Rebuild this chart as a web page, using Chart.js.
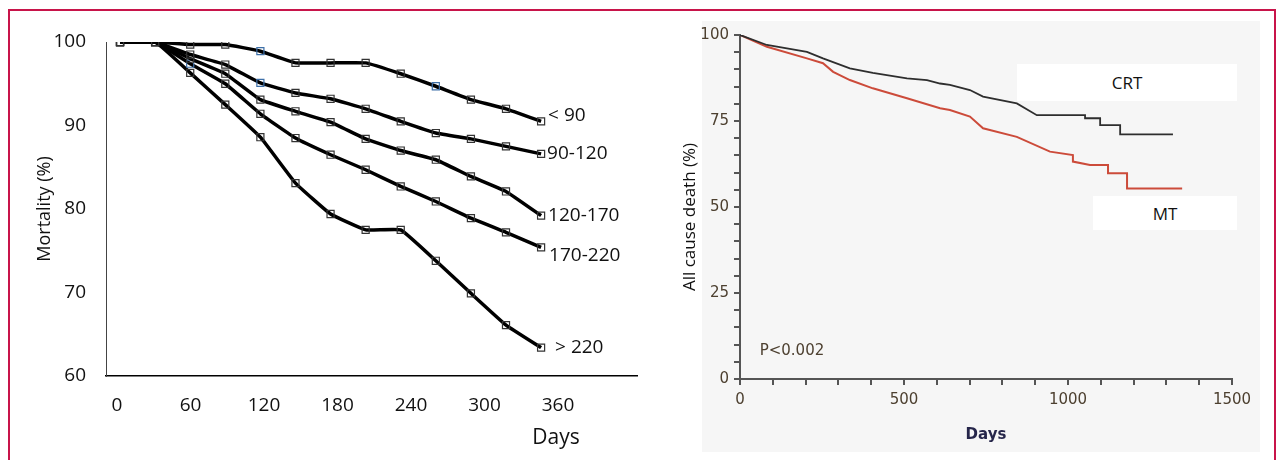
<!DOCTYPE html>
<html>
<head>
<meta charset="utf-8">
<script src="https://cdn.jsdelivr.net/npm/chart.js@4.4.1/dist/chart.umd.min.js"></script>
<style>
  body { margin: 0; background: #fff; width: 1281px; height: 460px; overflow: hidden; position: relative; font-family: "Open Sans", sans-serif; }
  #frame { position: absolute; left: 8px; top: 9px; width: 1268px; height: 520px; border: 2px solid #c8144a; box-sizing: border-box; }
  #kmBg { position: absolute; left: 702px; top: 21px; width: 558px; height: 431px; background: #f6f6f6; }
  #left { position: absolute; left: 0; top: 0; }
  #right { position: absolute; left: 660px; top: 0; }
  .box { position: absolute; background: #fff; font-size: 17px; color: #111; display: flex; align-items: center; justify-content: center; }
</style>
</head>
<body>
<div id="frame"></div>
<div id="kmBg"></div>
<canvas id="left" width="660" height="460"></canvas>
<canvas id="right" width="621" height="460"></canvas>
<div class="box" style="left:1017px;top:64px;width:220px;height:37px;">CRT</div>
<div class="box" style="left:1093px;top:196px;width:144px;height:34px;">MT</div>
<script>
// ---- left panel: mortality by group ----
const days = [0, 30, 60, 90, 120, 150, 180, 210, 240, 270, 300, 330, 360];
const dayTicks = [0, 60, 120, 180, 240, 300, 360];
const mortTicks = [60, 70, 80, 90, 100];
const groups = ['< 90', '90-120', '120-170', '170-220', '> 220'];
const lt90    = [100, 100, 99.7, 99.7, 98.9, 97.5, 97.5, 97.5, 96.2, 94.7, 93.1, 92.0, 90.5];
const g90_120 = [100, 100, 98.5, 97.3, 95.1, 93.9, 93.2, 92.0, 90.5, 89.1, 88.4, 87.5, 86.6];
const g120_170 = [100, 100, 98.0, 96.2, 93.1, 91.7, 90.4, 88.4, 87.0, 85.9, 83.9, 82.1, 79.2];
const g170_220 = [100, 100, 97.4, 95.0, 91.4, 88.5, 86.5, 84.7, 82.7, 80.9, 78.9, 77.2, 75.4];
const gt220   = [100, 100, 96.3, 92.5, 88.6, 83.1, 79.4, 77.5, 77.5, 73.8, 69.9, 66.1, 63.4];

// ---- right panel: Kaplan-Meier (repeated day = vertical step) ----
const crtDays = [0, 82, 204, 253, 335, 405, 509, 570, 610, 640, 701, 741, 844, 905, 1052, 1052, 1098, 1098, 1159, 1159, 1320];
const crtVals = [100, 97.1, 95.1, 93.2, 90.3, 89.0, 87.4, 86.9, 85.9, 85.5, 84.0, 82.1, 80.1, 76.7, 76.7, 75.8, 75.8, 73.8, 73.8, 71.1, 71.1];
const mtDays = [0, 82, 204, 253, 284, 335, 405, 509, 610, 640, 701, 741, 844, 945, 1015, 1015, 1067, 1122, 1122, 1180, 1180, 1348];
const mtVals = [100, 96.6, 93.2, 91.8, 89.3, 86.9, 84.5, 81.6, 78.7, 78.2, 76.3, 72.9, 70.4, 66.1, 65.1, 63.2, 62.2, 62.2, 59.8, 59.8, 55.4, 55.4];
const kmXTicks = [0, 500, 1000, 1500];
const kmYTicks = [0, 25, 50, 75, 100];

const seriesVals = [lt90, g90_120, g120_170, g170_220, gt220];
// a few markers in the source are drawn in blue
const blueMarks = { 0: [4, 9], 1: [4], 3: [2] };
const labelOffsets = [[7, -6], [6, 0], [7, 0], [8, 8], [14, 0]];

const leftSets = seriesVals.map((vals, i) => ({
  label: groups[i],
  data: vals.map((v, j) => ({ x: days[j], y: v })),
  xAxisID: 'x',
  borderColor: '#000',
  borderWidth: 3.5,
  tension: 0.1,
  pointStyle: 'rect',
  pointRadius: 5,
  pointBorderWidth: 1.2,
  pointBackgroundColor: 'rgba(0,0,0,0)',
  pointBorderColor: vals.map((v, j) => (blueMarks[i] || []).includes(j) ? '#3d6fa8' : '#333')
}));

const leftText = {
  id: 'leftText',
  afterDatasetsDraw(chart) {
    const ctx = chart.ctx;
    ctx.save();
    ctx.font = '19px "Open Sans"';
    ctx.fillStyle = '#111';
    ctx.textBaseline = 'middle';
    ctx.textAlign = 'left';
    chart.data.datasets.forEach((ds, i) => {
      const pts = chart.getDatasetMeta(i).data;
      const p = pts[pts.length - 1];
      ctx.fillText(ds.label, p.x + labelOffsets[i][0], p.y + labelOffsets[i][1]);
    });
    ctx.font = '21px "Open Sans"';
    ctx.textAlign = 'center';
    ctx.fillText('Days', chart.scales.xl.getPixelForValue(360) - 2, chart.chartArea.bottom + 62);
    ctx.restore();
  }
};

new Chart(document.getElementById('left'), {
  type: 'line',
  data: { datasets: leftSets },
  options: {
    responsive: false,
    animation: false,
    events: [],
    layout: { padding: { left: 30, right: 23, top: 42, bottom: 0 } },
    plugins: { legend: { display: false }, tooltip: { enabled: false } },
    scales: {
      x: { type: 'linear', min: -12, max: 442, display: false },
      xl: {
        type: 'linear', position: 'bottom', min: -9, max: 424.5,
        afterBuildTicks: s => { s.ticks = dayTicks.map(v => ({ value: v })); },
        afterFit: s => { s.height = 84; },
        grid: { display: false },
        border: { display: true, color: '#000', width: 1.5 },
        ticks: { color: '#111', font: { family: 'Open Sans', size: 19 }, padding: 10, autoSkip: false, maxRotation: 0 }
      },
      y: {
        min: 60, max: 100,
        afterBuildTicks: s => { s.ticks = mortTicks.map(v => ({ value: v })); },
        afterFit: s => { s.width = 76; },
        grid: { display: false },
        border: { display: true, color: '#444', width: 1 },
        ticks: { color: '#111', font: { family: 'Open Sans', size: 19 }, padding: 12 },
        title: { display: true, text: 'Mortality (%)', color: '#111', font: { family: 'Open Sans', size: 18 }, padding: { top: 4, bottom: 4 } }
      }
    }
  },
  plugins: [leftText]
});

const kmText = {
  id: 'kmText',
  afterDatasetsDraw(chart) {
    const ctx = chart.ctx;
    ctx.save();
    ctx.font = '15px "DejaVu Sans"';
    ctx.fillStyle = '#4d4030';
    ctx.textBaseline = 'middle';
    ctx.textAlign = 'left';
    ctx.fillText('P<0.002', chart.scales.x.getPixelForValue(60), chart.scales.y.getPixelForValue(8));
    // y title sits a little below the axis centre in the source
    ctx.font = '17px "Open Sans"';
    ctx.fillStyle = '#111';
    ctx.textAlign = 'center';
    ctx.translate(chart.scales.y.left - 6, (chart.chartArea.top + chart.chartArea.bottom) / 2 + 10);
    ctx.rotate(-Math.PI / 2);
    ctx.fillText('All cause death (%)', 0, 0);
    ctx.restore();
  }
};

const tickFont = { family: 'DejaVu Sans', size: 15 };
new Chart(document.getElementById('right'), {
  type: 'line',
  data: {
    datasets: [
      { label: 'CRT', data: crtDays.map((d, i) => ({ x: d, y: crtVals[i] })), borderColor: '#2e2e2e', borderWidth: 1.8, pointRadius: 0 },
      { label: 'MT', data: mtDays.map((d, i) => ({ x: d, y: mtVals[i] })), borderColor: '#cc4b3a', borderWidth: 2, pointRadius: 0 }
    ]
  },
  options: {
    responsive: false,
    animation: false,
    events: [],
    layout: { padding: { left: 36, right: 49, top: 35, bottom: 12 } },
    plugins: { legend: { display: false }, tooltip: { enabled: false } },
    scales: {
      x: {
        type: 'linear', min: 0, max: 1500,
        afterFit: s => { s.height = 69; },
        grid: { drawOnChartArea: false, drawTicks: true, tickLength: 6, color: '#555', lineWidth: 2 },
        border: { display: true, color: '#555', width: 2 },
        ticks: { stepSize: 100, autoSkip: false, maxRotation: 0, color: '#4d4030', font: tickFont, padding: 6,
                 callback: v => kmXTicks.includes(v) ? String(v) : '' },
        title: { display: true, text: 'Days', color: '#26264a', font: { family: 'DejaVu Sans', size: 15, weight: 'bold' }, padding: { top: 4, bottom: 4 } }
      },
      y: {
        min: 0, max: 100,
        afterFit: s => { s.width = 44; },
        grid: { drawOnChartArea: false, drawTicks: true, tickLength: 6, color: '#555', lineWidth: 2 },
        border: { display: true, color: '#555', width: 2 },
        ticks: { stepSize: 5, autoSkip: false, color: '#4d4030', font: tickFont, padding: 5,
                 callback: v => kmYTicks.includes(v) ? String(v) : '' }
      }
    }
  },
  plugins: [kmText]
});
</script>
</body>
</html>
